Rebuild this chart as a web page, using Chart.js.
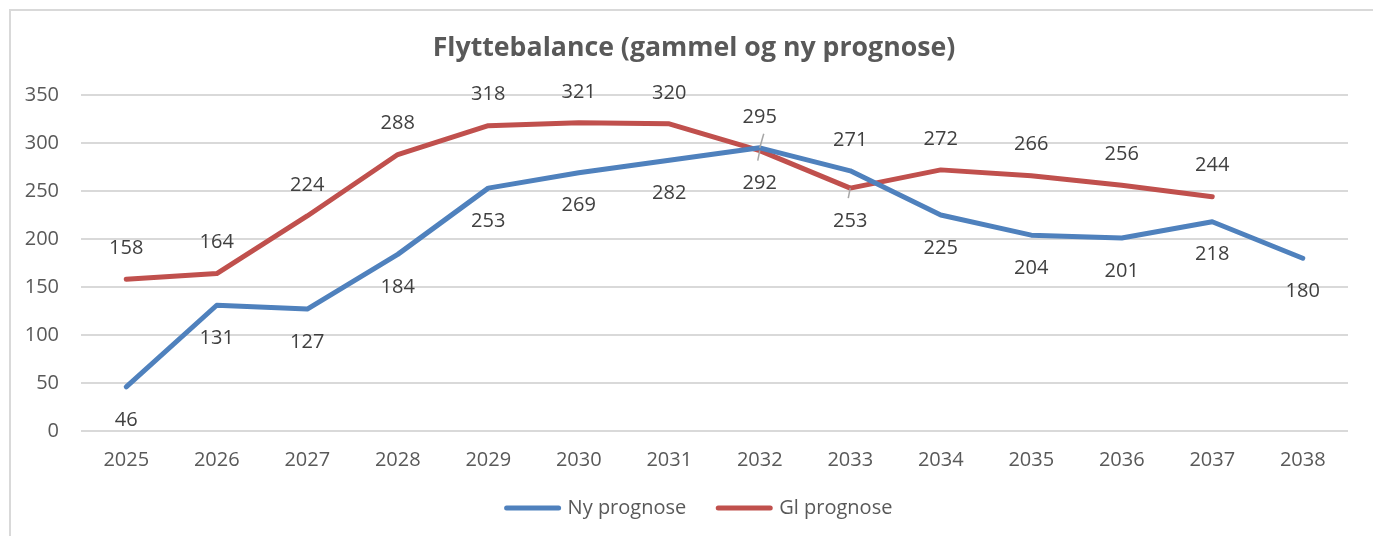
<!DOCTYPE html>
<html lang="en">
<head>
    <meta charset="UTF-8">
    <title>Flyttebalance</title>
    <script src="https://cdn.jsdelivr.net/npm/chart.js"></script>
    <style>
        body {
            margin: 0;
            padding: 0;
            background: #ffffff;
            overflow: hidden;
        }

        .frame {
            position: absolute;
            left: 9px;
            top: 9px;
            width: 1500px;
            height: 700px;
            border: 2px solid #d9d9d9;
        }

        .chart-box {
            position: absolute;
            left: 0;
            top: 0;
            width: 1373px;
            height: 536px;
        }
    </style>
</head>
<body>
    <div class="frame"></div>
    <div class="chart-box">
        <canvas id="flytChart"></canvas>
    </div>

    <script>
        const years = ["2025", "2026", "2027", "2028", "2029", "2030", "2031",
                       "2032", "2033", "2034", "2035", "2036", "2037", "2038"];
        const nyPrognose = [46, 131, 127, 184, 253, 269, 282, 295, 271, 225, 204, 201, 218, 180];
        const glPrognose = [158, 164, 224, 288, 318, 321, 320, 292, 253, 272, 266, 256, 244, null];

        const FONT = "'Open Sans', sans-serif";
        const TITLE = "Flyttebalance (gammel og ny prognose)";

        // label side per dataset: Ny below, Gl above, swapped where the lines cross
        const labelSide = [
            ["b", "b", "b", "b", "b", "b", "b", "a", "a", "b", "b", "b", "b", "b"],
            ["a", "a", "a", "a", "a", "a", "a", "b", "b", "a", "a", "a", "a", "a"]
        ];
        // labels that got a small leader line back to the point
        const leaders = [[0, 7], [1, 7], [1, 8]];

        const valueLabels = {
            id: "valueLabels",
            afterDatasetsDraw(chart) {
                const ctx = chart.ctx;
                ctx.save();
                ctx.font = "20px " + FONT;
                ctx.fillStyle = "#404040";
                ctx.textAlign = "center";
                ctx.textBaseline = "middle";
                chart.data.datasets.forEach((ds, di) => {
                    const meta = chart.getDatasetMeta(di);
                    meta.data.forEach((pt, i) => {
                        const v = ds.data[i];
                        if (v === null || v === undefined) return;
                        const off = labelSide[di][i] === "a" ? -31 : 33;
                        ctx.fillText(String(v), pt.x, pt.y + off);
                    });
                });

                ctx.strokeStyle = "#a6a6a6";
                ctx.lineWidth = 1.5;
                leaders.forEach(([di, i]) => {
                    const pt = chart.getDatasetMeta(di).data[i];
                    const up = labelSide[di][i] === "a";
                    ctx.beginPath();
                    if (up) {
                        ctx.moveTo(pt.x + 4, pt.y - 14);
                        ctx.lineTo(pt.x, pt.y);
                    } else {
                        ctx.moveTo(pt.x, pt.y);
                        ctx.lineTo(pt.x - 2, pt.y + 10);
                    }
                    ctx.stroke();
                });
                ctx.restore();
            }
        };

        // title on top and legend under the axis
        const titleAndLegend = {
            id: "titleAndLegend",
            afterDraw(chart) {
                const ctx = chart.ctx;
                ctx.save();
                ctx.textBaseline = "middle";

                ctx.font = "bold 26.7px " + FONT;
                ctx.textAlign = "center";
                ctx.fillStyle = "#595959";
                ctx.fillText(TITLE, 694, 48);

                const lineW = 56, gap = 7, itemGap = 30;
                const y = 508;
                ctx.font = "20px " + FONT;
                ctx.textAlign = "left";
                const items = chart.data.datasets.map(ds => ({
                    text: ds.label,
                    color: ds.borderColor,
                    w: lineW + gap + ctx.measureText(ds.label).width
                }));
                const total = items.reduce((s, it) => s + it.w, 0) + itemGap * (items.length - 1);
                let x = chart.width / 2 + 12 - total / 2;
                items.forEach(it => {
                    ctx.strokeStyle = it.color;
                    ctx.lineWidth = 5;
                    ctx.lineCap = "round";
                    ctx.beginPath();
                    ctx.moveTo(x + 2, y);
                    ctx.lineTo(x + lineW - 2, y);
                    ctx.stroke();
                    ctx.fillStyle = "#595959";
                    ctx.fillText(it.text, x + lineW + gap, y);
                    x += it.w + itemGap;
                });
                ctx.restore();
            }
        };

        const ctx = document.getElementById("flytChart").getContext("2d");
        new Chart(ctx, {
            type: "line",
            data: {
                labels: years,
                datasets: [{
                    label: "Ny prognose",
                    data: nyPrognose,
                    borderColor: "#4f81bd",
                    backgroundColor: "#4f81bd",
                    borderWidth: 5,
                    pointRadius: 0,
                    tension: 0,
                    borderCapStyle: "round",
                    borderJoinStyle: "round",
                    fill: false
                }, {
                    label: "Gl prognose",
                    data: glPrognose,
                    borderColor: "#c0504d",
                    backgroundColor: "#c0504d",
                    borderWidth: 5,
                    pointRadius: 0,
                    tension: 0,
                    borderCapStyle: "round",
                    borderJoinStyle: "round",
                    fill: false
                }]
            },
            options: {
                responsive: true,
                maintainAspectRatio: false,
                animation: false,
                layout: {
                    padding: { left: 0, right: 25, top: 95, bottom: 47 }
                },
                plugins: {
                    title: { display: false },
                    legend: { display: false },
                    tooltip: { enabled: false }
                },
                scales: {
                    x: {
                        offset: true,
                        grid: { display: false, drawTicks: false },
                        border: { display: false },
                        ticks: {
                            color: "#595959",
                            font: { family: FONT, size: 20 },
                            padding: 17,
                            maxRotation: 0
                        }
                    },
                    y: {
                        min: 0,
                        max: 350,
                        afterFit(scale) { scale.width = 81; },
                        grid: { color: "#d9d9d9", lineWidth: 2, drawTicks: false },
                        border: { display: false },
                        ticks: {
                            stepSize: 50,
                            color: "#595959",
                            font: { family: FONT, size: 20 },
                            padding: 22
                        }
                    }
                }
            },
            plugins: [valueLabels, titleAndLegend]
        });
    </script>
</body>
</html>
